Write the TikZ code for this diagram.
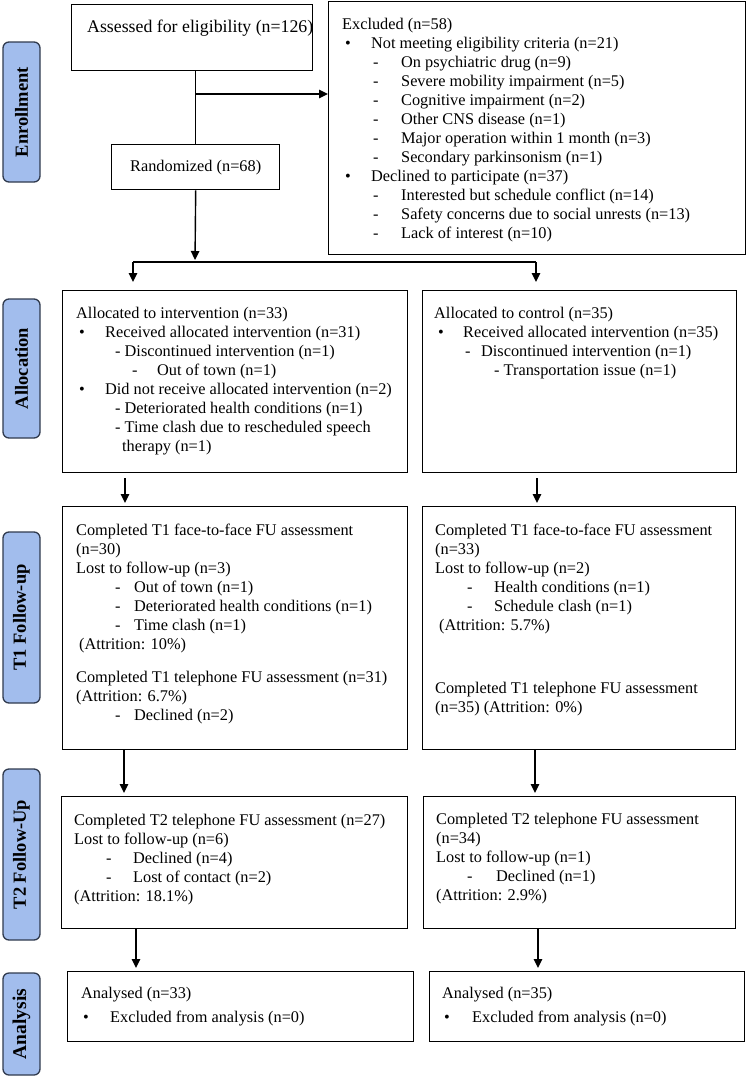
\documentclass[tikz,border=0pt]{standalone}
\usepackage{fontspec}
\setmainfont{Liberation Serif}
\usetikzlibrary{arrows.meta}
\newcommand\St{\rule[-5.7pt]{0pt}{19pt}}
\newcommand\Bu[2]{\St\hspace*{#1}\makebox[#2][l]{\textbullet}}
\newcommand\Da[2]{\St\hspace*{#1}\makebox[#2][l]{-}}
\definecolor{phfill}{RGB}{162,189,237}
\definecolor{phdraw}{RGB}{48,58,78}
\begin{document}
\begin{tikzpicture}[x=1pt,y=-1pt,
  box/.style={draw, line width=1.4pt, inner sep=0pt, anchor=north west},
  txt/.style={anchor=north west, inner sep=0pt, align=left, font=\fontsize{16.3}{19}\selectfont},
  phase/.style={draw=phdraw, fill=phfill, rounded corners=6pt, line width=1.3pt, inner sep=0pt,
    rotate=90, minimum height=37pt, font=\bfseries\fontsize{18.5}{20}\selectfont},
  ln/.style={line width=1.4pt},
  arr/.style={line width=1.4pt, -{Triangle[length=9pt,width=8.5pt]}}]
\useasboundingbox (0,0) rectangle (747,1077);

% phase labels
\node[phase, minimum width=140pt] (p1) at (21.5,112) {Enrollment};
\node[phase, minimum width=139pt] (p2) at (21.5,368.5) {Allocation};
\node[phase, minimum width=171pt] (p3) at (21.5,617.5) {T1 Follow-up};
\node[phase, minimum width=171pt] (p4) at (21.5,854.5) {T2 Follow-Up};
\node[phase, minimum width=102pt, font=\bfseries\fontsize{19.5}{21}\selectfont] (p5) at (21.5,1024) {Analysis};

% boxes
\node[box, minimum width=241pt, minimum height=66pt] (assess) at (71,4) {};
\node[anchor=base west, inner sep=0pt, font=\fontsize{17.8}{20}\selectfont] (assT) at (87,32.5) {Assessed for eligibility (n=126)};
\node[box, minimum width=168pt, minimum height=45pt, font=\fontsize{16.3}{19}\selectfont] (rand) at (111,144) {Randomized (n=68)};
\node[box, minimum width=417pt, minimum height=253pt] (excl) at (328,1) {};
\node[box, minimum width=345pt, minimum height=182pt] (allocL) at (62,290) {};
\node[box, minimum width=314pt, minimum height=182pt] (allocR) at (422,290) {};
\node[box, minimum width=345pt, minimum height=243pt] (t1L) at (62,506) {};
\node[box, minimum width=313pt, minimum height=243pt] (t1R) at (422,506) {};
\node[box, minimum width=346pt, minimum height=132pt] (t2L) at (61,796) {};
\node[box, minimum width=312pt, minimum height=132pt] (t2R) at (423,796) {};
\node[box, minimum width=346pt, minimum height=70pt] (anL) at (67,971) {};
\node[box, minimum width=315pt, minimum height=70pt] (anR) at (429,971) {};

% texts
\node[txt] (exclT) at (342,16.2) {\St Excluded (n=58)\\
\Bu{3pt}{26pt}Not meeting eligibility criteria (n=21)\\
\Da{31pt}{28pt}On psychiatric drug (n=9)\\
\Da{31pt}{28pt}Severe mobility impairment (n=5)\\
\Da{31pt}{28pt}Cognitive impairment (n=2)\\
\Da{31pt}{28pt}Other CNS disease (n=1)\\
\Da{31pt}{28pt}Major operation within 1 month (n=3)\\
\Da{31pt}{28pt}Secondary parkinsonism (n=1)\\
\Bu{3pt}{26pt}Declined to participate (n=37)\\
\Da{31pt}{28pt}Interested but schedule conflict (n=14)\\
\Da{31pt}{28pt}Safety concerns due to social unrests (n=13)\\
\Da{31pt}{28pt}Lack of interest (n=10)};

\node[txt] (allocLT) at (76,305.2) {\St Allocated to intervention (n=33)\\
\Bu{3pt}{26pt}Received allocated intervention (n=31)\\
\St\hspace*{39pt}- Discontinued intervention (n=1)\\
\Da{56pt}{25pt}Out of town (n=1)\\
\Bu{3pt}{26pt}Did not receive allocated intervention (n=2)\\
\St\hspace*{39pt}- Deteriorated health conditions (n=1)\\
\St\hspace*{39pt}- Time clash due to rescheduled speech\\
\St\hspace*{46pt}therapy (n=1)};

\node[txt] (allocRT) at (434,305.2) {\St Allocated to control (n=35)\\
\Bu{4pt}{25pt}Received allocated intervention (n=35)\\
\Da{31pt}{16pt}Discontinued intervention (n=1)\\
\St\hspace*{60pt}- Transportation issue (n=1)};

\node[txt] (t1LT) at (76,522.2) {\St Completed T1 face-to-face FU assessment\\
\St(n=30)\\
\St Lost to follow-up (n=3)\\
\Da{39pt}{19pt}Out of town (n=1)\\
\Da{39pt}{19pt}Deteriorated health conditions (n=1)\\
\Da{39pt}{19pt}Time clash (n=1)\\
\St\hspace*{3pt}(Attrition: 10\%)\\[14pt]
\St Completed T1 telephone FU assessment (n=31)\\
\St(Attrition: 6.7\%)\\
\Da{39pt}{19pt}Declined (n=2)};

\node[txt] (t1RT) at (435,522.2) {\St Completed T1 face-to-face FU assessment\\
\St(n=33)\\
\St Lost to follow-up (n=2)\\
\Da{32pt}{27pt}Health conditions (n=1)\\
\Da{32pt}{27pt}Schedule clash (n=1)\\
\St\hspace*{4pt}(Attrition: 5.7\%)\\[44pt]
\St Completed T1 telephone FU assessment\\
\St(n=35) (Attrition: 0\%)};

\node[txt] (t2LT) at (74,812.2) {\St Completed T2 telephone FU assessment (n=27)\\
\St Lost to follow-up (n=6)\\
\Da{32pt}{27pt}Declined (n=4)\\
\Da{32pt}{27pt}Lost of contact (n=2)\\
\St(Attrition: 18.1\%)};

\node[txt] (t2RT) at (436,811.2) {\St Completed T2 telephone FU assessment\\
\St(n=34)\\
\St Lost to follow-up (n=1)\\
\Da{31pt}{29pt}Declined (n=1)\\
\St(Attrition: 2.9\%)};

\node[txt] (anLT) at (81,985.2) {\St Analysed (n=33)\\[5pt]
\Bu{2pt}{27pt}Excluded from analysis (n=0)};
\node[txt] (anRT) at (442,985.2) {\St Analysed (n=35)\\[5pt]
\Bu{2pt}{28pt}Excluded from analysis (n=0)};

% connectors
\draw[ln] (rand.north |- assess.south) -- (rand.north);
\coordinate (br) at (195,94);
\draw[arr] (br) -- (br -| excl.west);
\coordinate (split) at (195,262);
\draw[arr, shorten >=2pt] (rand.south) -- (split);
\coordinate (sl) at (133,262);
\coordinate (sr) at (536,262);
\draw[ln] (sl) -- (sr);
\coordinate (sle) at (133,282);
\coordinate (sre) at (536,282);
\draw[arr] (sl) -- (sle);
\draw[arr] (sr) -- (sre);
\coordinate (a1) at (125,503);
\coordinate (a2) at (537,503);
\draw[arr, shorten <=5pt] (a1 |- allocL.south) -- (a1);
\draw[arr, shorten <=5pt] (a2 |- allocR.south) -- (a2);
\coordinate (b1) at (124,793);
\coordinate (b2) at (535,793);
\draw[arr] (b1 |- t1L.south) -- (b1);
\draw[arr] (b2 |- t1R.south) -- (b2);
\coordinate (c1) at (136,968);
\coordinate (c2) at (538,968);
\draw[arr] (c1 |- t2L.south) -- (c1);
\draw[arr] (c2 |- t2R.south) -- (c2);
\end{tikzpicture}
\end{document}
